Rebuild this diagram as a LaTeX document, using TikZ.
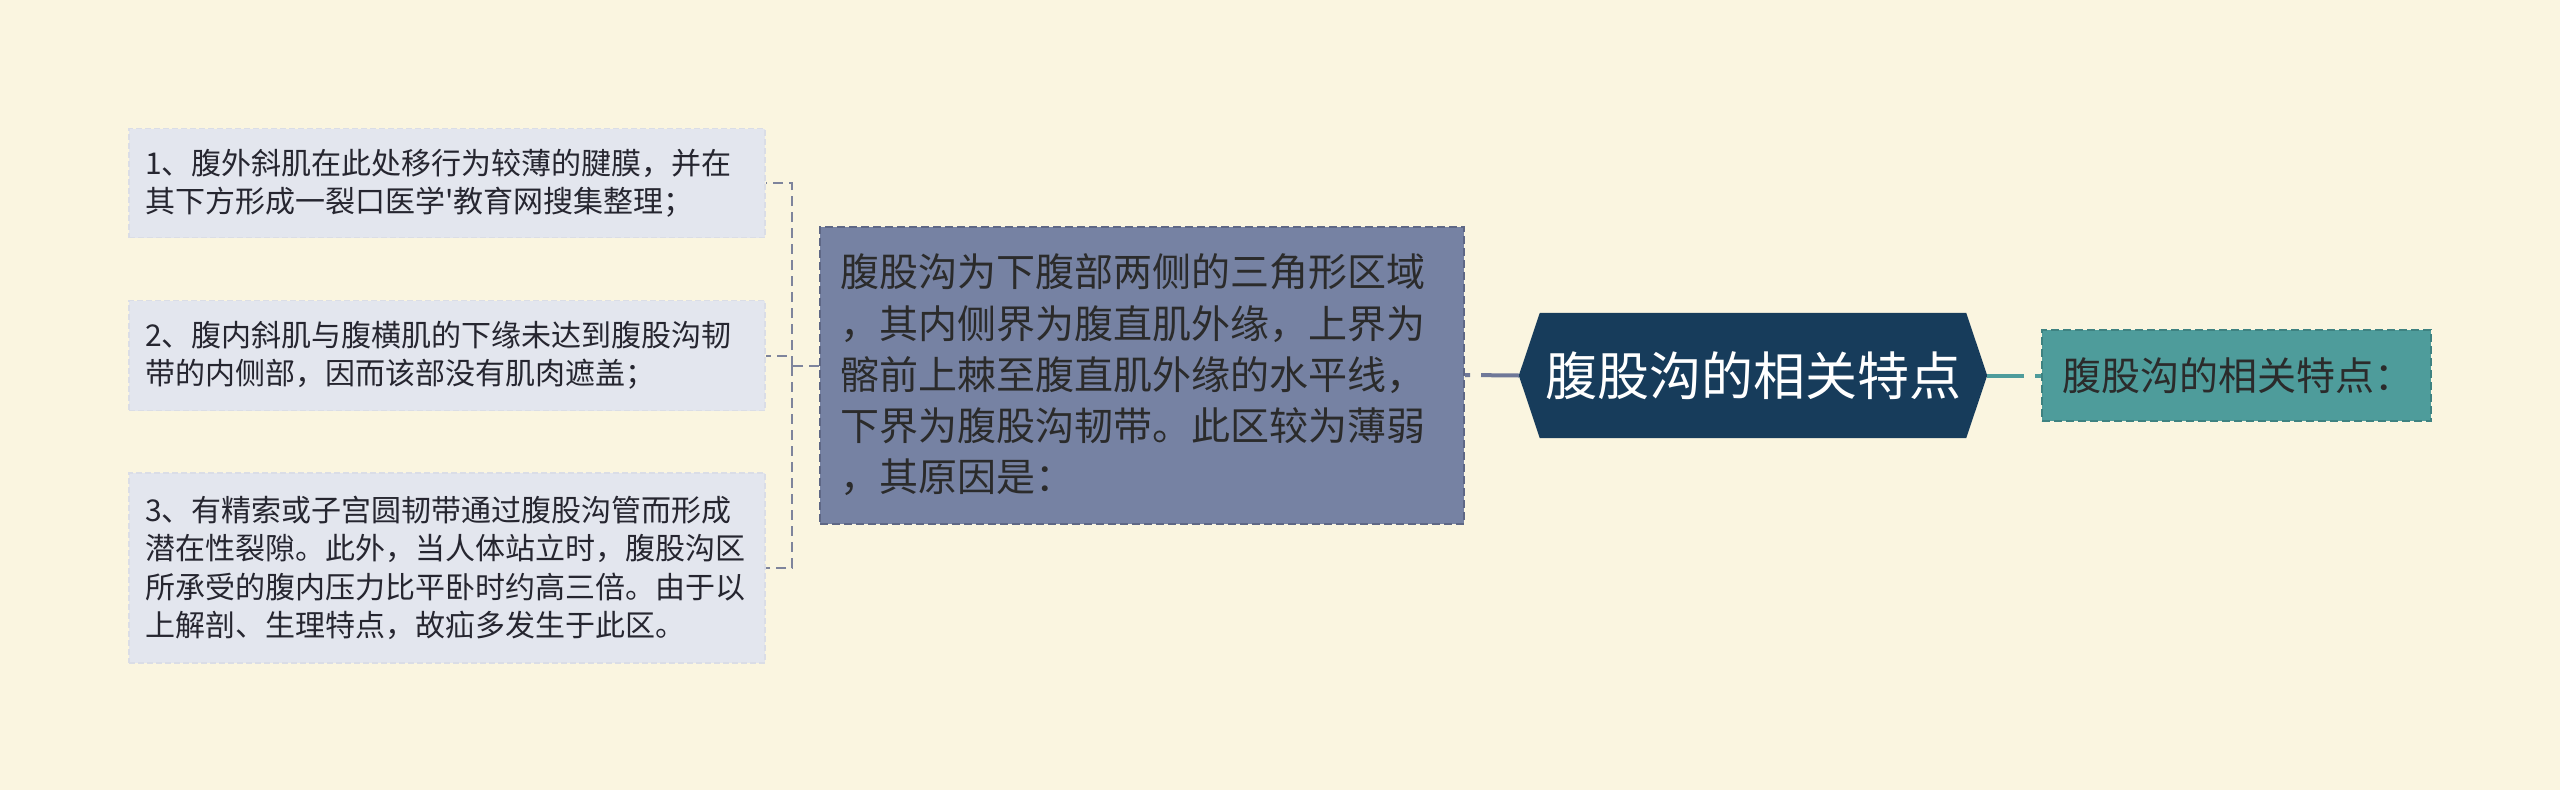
\documentclass[tikz,border=0pt]{standalone}
\usepackage{fontspec}
\newfontfamily\cjk{Noto Sans CJK SC}
\usetikzlibrary{backgrounds}
\definecolor{bg}{HTML}{FAF5E0}
\definecolor{leftfill}{HTML}{E3E6EE}
\definecolor{leftborder}{HTML}{DADDE6}
\definecolor{lefttext}{HTML}{262630}
\definecolor{midfill}{HTML}{7682A3}
\definecolor{midborder}{HTML}{5E6785}
\definecolor{rootfill}{HTML}{173C5B}
\definecolor{rightfill}{HTML}{4E9C9B}
\definecolor{rightborder}{HTML}{3E8281}
\definecolor{darktext}{HTML}{2B2B2B}
\definecolor{conncol}{HTML}{7E849C}
\definecolor{midconn}{HTML}{6F7898}
\definecolor{tealconn}{HTML}{4E9C9B}
\begin{document}
\begin{tikzpicture}[x=1pt,y=-1pt,
  leftbox/.style={rectangle, fill=leftfill, draw=leftborder, line width=1.5pt,
    dash pattern=on 6pt off 3pt, minimum width=636pt, text width=604pt,
    inner xsep=16pt, inner ysep=0pt, align=left,
    font=\cjk\fontsize{30}{38.5}\selectfont, text=lefttext},
  midbox/.style={rectangle, fill=midfill, draw=midborder, line width=2pt,
    dash pattern=on 8pt off 4pt, minimum width=644pt, minimum height=297pt,
    text width=604pt, inner xsep=20pt, inner ysep=0pt, align=left,
    font=\cjk\fontsize{39}{51.2}\selectfont, text=darktext},
  rootbox/.style={rectangle, inner sep=0pt, minimum width=468pt, minimum height=125pt,
    font=\cjk\fontsize{52}{60}\selectfont, text=white},
  rightbox/.style={rectangle, fill=rightfill, draw=rightborder, line width=2pt,
    dash pattern=on 8pt off 4pt, minimum width=389pt, minimum height=91pt,
    text width=349pt, inner xsep=20pt, inner ysep=0pt, align=left,
    font=\cjk\fontsize{39}{46}\selectfont, text=darktext},
  conn/.style={draw=conncol, line width=2pt, dash pattern=on 10pt off 6pt},
  rootconn/.style={draw=midconn, line width=4pt, dash pattern=on 5pt off 11pt on 100pt off 0pt},
  tealline/.style={draw=tealconn, line width=4pt, dash pattern=on 37pt off 11pt on 10pt off 0pt}
]
\useasboundingbox (0,0) rectangle (2560,790);

\node[leftbox, minimum height=109pt] (b1) at (447,183)
  {1、腹外斜肌在此处移行为较薄的腱膜，并在\\其下方形成一裂口医学'教育网搜集整理；};
\node[leftbox, minimum height=110pt] (b2) at (447,355.5)
  {2、腹内斜肌与腹横肌的下缘未达到腹股沟韧\\带的内侧部，因而该部没有肌肉遮盖；};
\node[leftbox, minimum height=190pt] (b3) at (447,568)
  {3、有精索或子宫圆韧带通过腹股沟管而形成\\潜在性裂隙。此外，当人体站立时，腹股沟区\\所承受的腹内压力比平卧时约高三倍。由于以\\上解剖、生理特点，故疝多发生于此区。};

\node[midbox] (mid) at (1142,375)
  {腹股沟为下腹部两侧的三角形区域\\，其内侧界为腹直肌外缘，上界为\\髂前上棘至腹直肌外缘的水平线，\\下界为腹股沟韧带。此区较为薄弱\\，其原因是：};

\node[rootbox] (root) at (1753,375.5) {腹股沟的相关特点};

\node[rightbox] (right) at (2236.5,375.5) {腹股沟的相关特点：};

% connectors
\path ([yshift=9pt]mid.west) ++(-27,0) coordinate (j);
\draw[conn] ([yshift=9pt]mid.west) -- (j);
\draw[conn] (j) |- (b1.east);
\draw[conn] (j) |- (b2.east);
\draw[conn] (j) |- (b3.east);
\draw[rootconn] (mid.east) -- (root.west);
\draw[tealline] (root.east) -- (right.west);

\begin{pgfonlayer}{background}
  \fill[bg] (0,0) rectangle (2560,790);
  \fill[rootfill] (root.west) -- ([xshift=21pt]root.north west) -- ([xshift=-21pt]root.north east)
    -- (root.east) -- ([xshift=-21pt]root.south east) -- ([xshift=21pt]root.south west) -- cycle;
\end{pgfonlayer}
\end{tikzpicture}
\end{document}
